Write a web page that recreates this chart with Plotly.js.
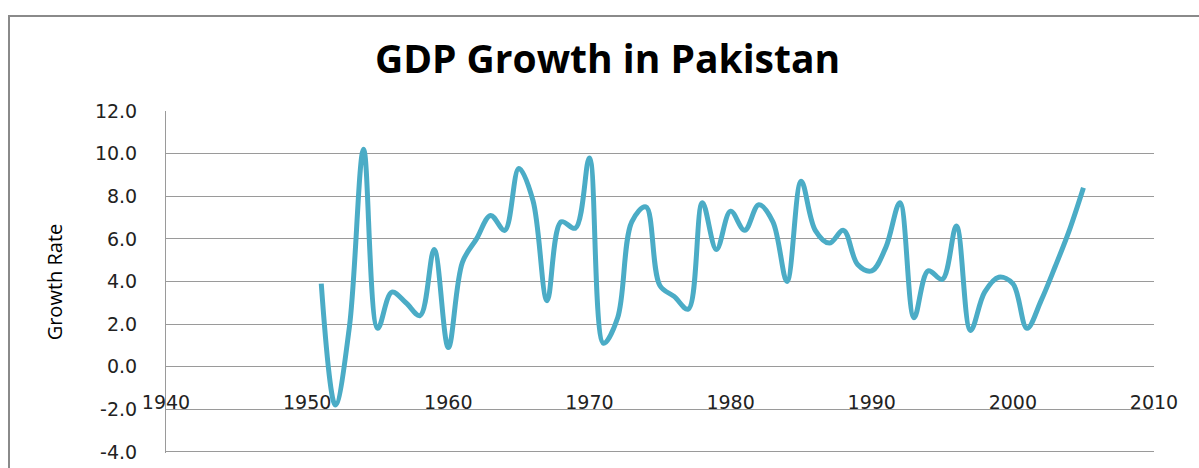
<!DOCTYPE html>
<html>
<head>
<meta charset="utf-8">
<script src="https://cdn.plot.ly/plotly-3.0.1.min.js"></script>
<style>
html,body{margin:0;padding:0;background:#ffffff;overflow:hidden;}
#chart{width:1199px;height:468px;position:absolute;left:0;top:0;}
#frame{position:absolute;left:8px;top:15px;width:1400px;height:700px;border-left:2px solid #8a8a8a;border-top:2px solid #8a8a8a;pointer-events:none;}
</style>
</head>
<body>
<div id="chart"></div>
<div id="frame"></div>
<script>
const years = [1951,1952,1953,1954,1955,1956,1957,1958,1959,1960,
               1961,1962,1963,1964,1965,1966,1967,1968,1969,1970,
               1971,1972,1973,1974,1975,1976,1977,1978,1979,1980,
               1981,1982,1983,1984,1985,1986,1987,1988,1989,1990,
               1991,1992,1993,1994,1995,1996,1997,1998,1999,2000,
               2001,2002,2003,2004,2005];
const growth = [3.9,-1.8,1.9,10.2,1.8,3.5,3.0,2.4,5.5,0.9,
                4.9,6.0,7.1,6.4,9.3,7.8,3.1,6.8,6.5,9.8,
                1.1,2.3,6.8,7.5,3.8,3.3,2.7,7.7,5.5,7.3,
                6.4,7.6,6.8,4.0,8.7,6.4,5.8,6.4,4.8,4.5,
                5.6,7.7,2.3,4.5,4.1,6.6,1.7,3.5,4.2,3.9,
                1.8,3.1,4.7,6.4,8.4];
const yTickVals = [-4,-2,0,2,4,6,8,10,12];
const yTickText = ['-4.0','-2.0','0.0','2.0','4.0','6.0','8.0','10.0','12.0'];
const xTickVals = [1940,1950,1960,1970,1980,1990,2000,2010];
const xTickText = ['1940','1950','1960','1970','1980','1990','2000','2010'];

const trace = {
  x: years,
  y: growth,
  type: 'scatter',
  mode: 'lines',
  line: {color: '#4bacc6', width: 5, shape: 'spline', smoothing: 1},
  hoverinfo: 'x+y'
};

const layout = {
  width: 1199,
  height: 468,
  margin: {l: 166, r: 45, t: 111, b: 15, pad: 0},
  paper_bgcolor: 'rgba(0,0,0,0)',
  plot_bgcolor: '#ffffff',
  showlegend: false,
  title: {
    text: 'GDP Growth in Pakistan',
    font: {family: 'Open Sans', size: 39, color: '#000000', weight: 'bold'},
    xref: 'container', x: 607.5/1199, xanchor: 'center',
    yref: 'container', y: 1 - 59/468, yanchor: 'middle'
  },
  xaxis: {
    range: [1940, 2010],
    tickmode: 'array',
    tickvals: xTickVals,
    ticktext: xTickText,
    anchor: 'free',
    position: 0.186,
    ticks: '',
    showgrid: false,
    zeroline: false,
    showline: false,
    ticklabeloverflow: 'allow',
    tickfont: {family: 'DejaVu Sans', size: 19, color: '#222222'},
    fixedrange: true
  },
  yaxis: {
    range: [-4.05, 12],
    tickmode: 'array',
    tickvals: yTickVals,
    ticktext: yTickText,
    showgrid: true,
    gridcolor: '#9a9a9a',
    gridwidth: 1,
    zeroline: false,
    showline: true,
    linecolor: '#9a9a9a',
    linewidth: 1,
    ticks: '',
    ticklabelstandoff: 24,
    tickfont: {family: 'DejaVu Sans', size: 19, color: '#222222'},
    title: {
      text: 'Growth Rate',
      font: {family: 'Open Sans', size: 20, color: '#000000'},
      standoff: 26
    },
    fixedrange: true
  }
};

Plotly.newPlot('chart', [trace], layout, {displayModeBar: false, staticPlot: true});
</script>
</body>
</html>
